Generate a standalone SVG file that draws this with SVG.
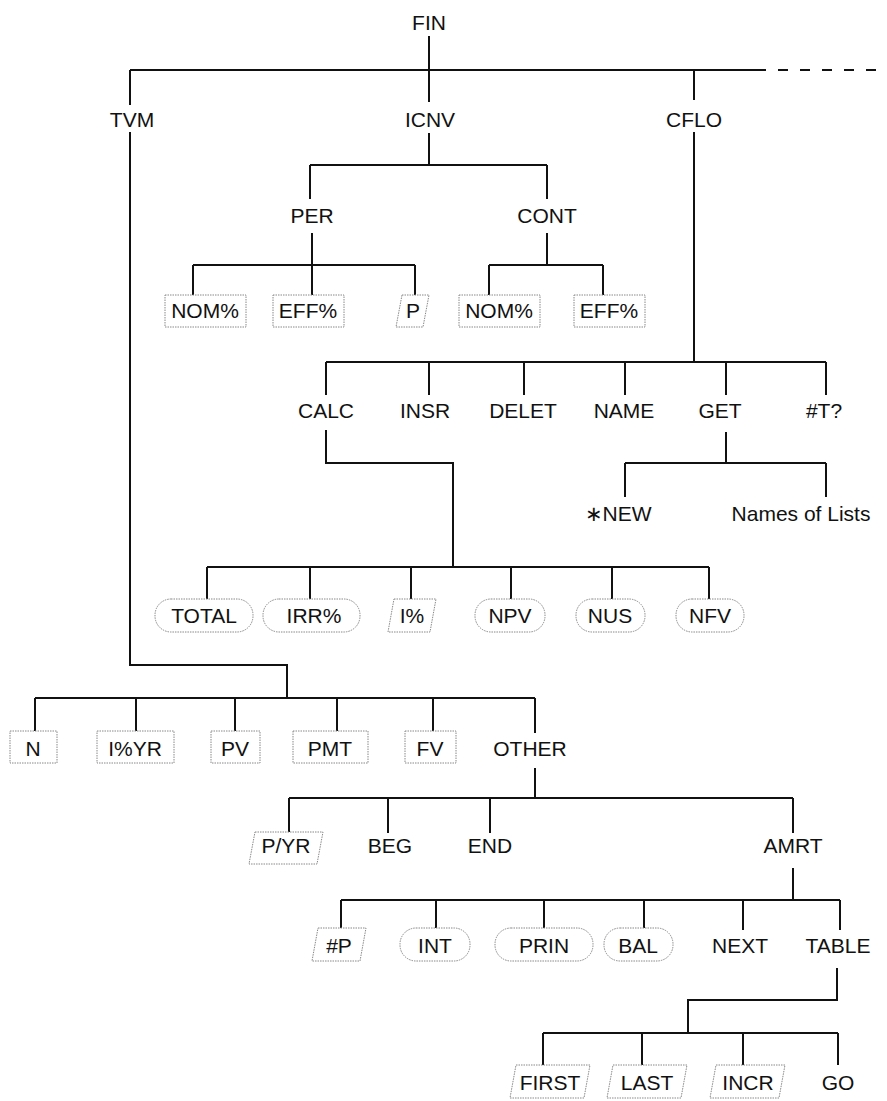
<svg xmlns="http://www.w3.org/2000/svg" width="887" height="1101" viewBox="0 0 887 1101">
<style>
text{font-family:"Liberation Sans",Arial,sans-serif;font-size:21px;fill:#111;text-anchor:middle}
.c path{fill:none;stroke:#111;stroke-width:2}
.b{fill:none;stroke:#888;stroke-width:1;stroke-dasharray:1.5 1}
</style>
<rect width="887" height="1101" fill="#fff"/>
<g class="c" id="connectors">
<path d="M429 36V70M130 70H756M429 70V102M130 70V105M694 70V100"/>
<path d="M756 70H887" stroke-dasharray="10 12"/>
<path d="M429 133V165M310 165H547M310 165V199M547 165V199"/>
<path d="M312 233V265M193 265H415M193 265V295M312 265V295M415 265V295"/>
<path d="M547 233V265M489 265H603M489 265V295M603 265V295"/>
<path d="M694 132V362M326 362H826M326 362V395M429 362V395M524 362V395M625 362V395M726 362V395M826 362V395"/>
<path d="M326 430V463H453V567M207 567H709M207 567V599M310 567V599M411 567V599M511 567V599M612 567V599M709 567V599"/>
<path d="M726 432V463M625 463H826M625 463V497M826 463V497"/>
<path d="M130 132V665H287V698M35 698H535M35 698V731M136 698V731M235 698V731M337 698V731M433 698V731M535 698V733"/>
<path d="M535 768V798M289 798H793M289 798V832M388 798V833M490 798V833M793 798V833"/>
<path d="M793 868V900M341 900H840M341 900V928M436 900V928M544 900V928M644 900V928M743 900V930M840 900V930"/>
<path d="M837 968V1000H688V1033M543 1033H838M543 1033V1065M642 1033V1065M743 1033V1065M838 1033V1065"/>
</g>
<g id="FIN"><text x="429" y="30">FIN</text></g>
<g id="TVM"><text x="132" y="127">TVM</text></g>
<g id="ICNV"><text x="430" y="127">ICNV</text></g>
<g id="CFLO"><text x="694" y="127">CFLO</text></g>
<g id="PER"><text x="312" y="223">PER</text></g>
<g id="CONT"><text x="547" y="223">CONT</text></g>
<g id="PER_NOM"><rect class="b" x="165" y="295" width="81" height="32"/><text x="205" y="318">NOM%</text></g>
<g id="PER_EFF"><rect class="b" x="273" y="295" width="71" height="32"/><text x="308" y="318">EFF%</text></g>
<g id="PER_P"><path class="b" d="M402 295H429L423 327H396Z"/><text x="413" y="318">P</text></g>
<g id="CONT_NOM"><rect class="b" x="459" y="295" width="81" height="32"/><text x="499" y="318">NOM%</text></g>
<g id="CONT_EFF"><rect class="b" x="574" y="295" width="71" height="32"/><text x="609" y="318">EFF%</text></g>
<g id="CALC"><text x="326" y="418">CALC</text></g>
<g id="INSR"><text x="425" y="418">INSR</text></g>
<g id="DELET"><text x="523" y="418">DELET</text></g>
<g id="NAME"><text x="624" y="418">NAME</text></g>
<g id="GET"><text x="720" y="418">GET</text></g>
<g id="NT"><text x="824" y="418">#T?</text></g>
<g id="NEW"><text x="618" y="521">∗NEW</text></g>
<g id="NAMES"><text x="801" y="521">Names of Lists</text></g>
<g id="TOTAL"><rect class="b" x="155" y="599" width="98" height="33" rx="16"/><text x="204" y="623">TOTAL</text></g>
<g id="IRR"><rect class="b" x="263" y="599" width="97" height="33" rx="16"/><text x="314" y="623">IRR%</text></g>
<g id="IPCT"><path class="b" d="M394 599H436L430 632H388Z"/><text x="412" y="623">I%</text></g>
<g id="NPV"><rect class="b" x="475" y="599" width="70" height="33" rx="16"/><text x="510" y="623">NPV</text></g>
<g id="NUS"><rect class="b" x="576" y="599" width="69" height="33" rx="16"/><text x="610" y="623">NUS</text></g>
<g id="NFV"><rect class="b" x="676" y="599" width="68" height="33" rx="16"/><text x="710" y="623">NFV</text></g>
<g id="N"><rect class="b" x="10" y="731" width="47" height="32"/><text x="33" y="756">N</text></g>
<g id="IYR"><rect class="b" x="97" y="731" width="77" height="32"/><text x="135" y="756">I%YR</text></g>
<g id="PV"><rect class="b" x="211" y="731" width="49" height="32"/><text x="235" y="756">PV</text></g>
<g id="PMT"><rect class="b" x="293" y="731" width="75" height="32"/><text x="330" y="756">PMT</text></g>
<g id="FV"><rect class="b" x="405" y="731" width="51" height="32"/><text x="430" y="756">FV</text></g>
<g id="OTHER"><text x="530" y="756">OTHER</text></g>
<g id="PYR"><path class="b" d="M255 832H323L317 864H249Z"/><text x="286" y="853">P/YR</text></g>
<g id="BEG"><text x="390" y="853">BEG</text></g>
<g id="END"><text x="490" y="853">END</text></g>
<g id="AMRT"><text x="793" y="853">AMRT</text></g>
<g id="NP"><path class="b" d="M318 928H366L360 961H312Z"/><text x="339" y="953">#P</text></g>
<g id="INT"><rect class="b" x="400" y="928" width="70" height="33" rx="16"/><text x="435" y="953">INT</text></g>
<g id="PRIN"><rect class="b" x="495" y="928" width="98" height="33" rx="16"/><text x="544" y="953">PRIN</text></g>
<g id="BAL"><rect class="b" x="604" y="928" width="69" height="33" rx="16"/><text x="638" y="953">BAL</text></g>
<g id="NEXT"><text x="740" y="953">NEXT</text></g>
<g id="TABLE"><text x="838" y="953">TABLE</text></g>
<g id="FIRST"><path class="b" d="M516 1065H590L584 1098H510Z"/><text x="550" y="1090">FIRST</text></g>
<g id="LAST"><path class="b" d="M613 1065H687L681 1098H607Z"/><text x="647" y="1090">LAST</text></g>
<g id="INCR"><path class="b" d="M716 1065H785L779 1098H710Z"/><text x="748" y="1090">INCR</text></g>
<g id="GO"><text x="838" y="1090">GO</text></g>
</svg>
